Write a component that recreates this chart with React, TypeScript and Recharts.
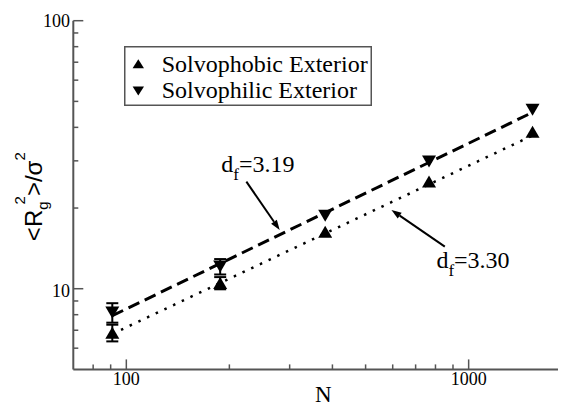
import React from 'react';
import {
  ComposedChart,
  Scatter,
  Line,
  XAxis,
  YAxis,
  ErrorBar,
  ReferenceLine,
  ReferenceDot,
  Legend,
} from 'recharts';

// ---- data ----
const chainN = [91, 188, 381, 766, 1537];
const phobicRg = [6.85, 10.5, 16.3, 25.1, 38.5];
const phobicErr = [0.49, 0.55, 0, 0, 0];
const philicRg = [8.15, 12.1, 18.7, 29.8, 46.5];
const philicErr = [0.68, 0.8, 0, 0, 0];

const fitN = [91, 1537];
const fitPhilic = [7.93, 45.5]; // dashed, d_f = 3.19
const fitPhobic = [6.78, 37.3]; // dotted, d_f = 3.30

const seriesNames = ['Solvophobic Exterior', 'Solvophilic Exterior'];
const fitLabels = ['3.19', '3.30'];

const xTicks = [80, 90, 100, 200, 300, 400, 500, 600, 700, 800, 900, 1000];
const xMajor = [100, 1000];
const yTicks = [6, 7, 8, 9, 10, 20, 30, 40, 50, 60, 70, 80, 90, 100];
const yMajor = [10, 100];

// annotation anchors in data units
const annText = [
  { x: 189.5, y: 27.34 },
  { x: 805, y: 11.91 },
];
const annArrows = [
  [{ x: 224.2, y: 25.1 }, { x: 280.5, y: 16.56 }],
  [{ x: 852, y: 14.35 }, { x: 595, y: 19.67 }],
];

const phobicData = chainN.map((n, i) => ({ x: n, y: phobicRg[i], err: phobicErr[i] }));
const philicData = chainN.map((n, i) => ({ x: n, y: philicRg[i], err: philicErr[i] }));
const fitPhilicData = fitN.map((n, i) => ({ x: n, y: fitPhilic[i] }));
const fitPhobicData = fitN.map((n, i) => ({ x: n, y: fitPhobic[i] }));

const AXIS = '#555';
const SERIF = '"Liberation Serif", "Times New Roman", serif';
const SANS = '"Liberation Sans", Arial, sans-serif';

const UpTri = (props: any) => {
  const { cx, cy } = props;
  if (cx == null || cy == null) return null;
  return <polygon points={`${cx},${cy - 6} ${cx - 7},${cy + 6} ${cx + 7},${cy + 6}`} fill="#000" />;
};
const DownTri = (props: any) => {
  const { cx, cy } = props;
  if (cx == null || cy == null) return null;
  return <polygon points={`${cx},${cy + 6} ${cx - 7},${cy - 6} ${cx + 7},${cy - 6}`} fill="#000" />;
};

const BottomTick = (props: any) => {
  const { x, y, payload } = props;
  const major = xMajor.includes(payload.value);
  return (
    <g>
      <line x1={x} x2={x} y1={y} y2={y - (major ? 10 : 5)} stroke={AXIS} strokeWidth={1.5} />
      {major && (
        <text x={x} y={y + 15.5} textAnchor="middle" fontFamily={SERIF} fontSize={18} fill="#000">
          {payload.value}
        </text>
      )}
    </g>
  );
};
const TopTick = (props: any) => {
  const { x, y, payload } = props;
  const major = xMajor.includes(payload.value);
  return <line x1={x} x2={x} y1={y} y2={y + (major ? 10 : 5)} stroke={AXIS} strokeWidth={1.5} />;
};
const LeftTick = (props: any) => {
  const { x, y, payload } = props;
  const major = yMajor.includes(payload.value);
  return (
    <g>
      <line x1={x} x2={x + (major ? 10 : 5)} y1={y} y2={y} stroke={AXIS} strokeWidth={1.5} />
      {major && (
        <text x={x - 3.3} y={y + (payload.value === 100 ? 6.5 : 8)} textAnchor="end" fontFamily={SERIF} fontSize={18} fill="#000">
          {payload.value}
        </text>
      )}
    </g>
  );
};
const RightTick = (props: any) => {
  const { x, y, payload } = props;
  const major = yMajor.includes(payload.value);
  return <line x1={x} x2={x - (major ? 10 : 5)} y1={y} y2={y} stroke={AXIS} strokeWidth={1.5} />;
};

const Arrow = (props: any) => {
  const { x1, y1, x2, y2 } = props;
  if ([x1, y1, x2, y2].some((v) => v == null || isNaN(v))) return null;
  const ang = Math.atan2(y2 - y1, x2 - x1);
  const L = 10;
  const W = 3.5;
  const bx = x2 - L * Math.cos(ang);
  const by = y2 - L * Math.sin(ang);
  const px = -Math.sin(ang) * W;
  const py = Math.cos(ang) * W;
  return (
    <g>
      <line x1={x1} y1={y1} x2={bx} y2={by} stroke="#000" strokeWidth={2} />
      <polygon points={`${x2},${y2} ${bx + px},${by + py} ${bx - px},${by - py}`} fill="#000" />
    </g>
  );
};

const makeAnnText = (value: string) => (props: any) => {
  const { cx, cy } = props;
  return (
    <text x={cx} y={cy} fontFamily={SERIF} fontSize={24} fill="#000">
      d
      <tspan fontSize={17} dy={8}>
        f
      </tspan>
      <tspan dy={-8}>={value}</tspan>
    </text>
  );
};

const YLabel = () => (
  <text
    transform="rotate(-90 33.7 188.7)"
    x={33.7}
    y={188.7}
    textAnchor="middle"
    fontFamily={SANS}
    fontSize={24}
    fill="#000"
  >
    {'<R'}
    <tspan fontSize={15} dy={6}>
      g
    </tspan>
    <tspan fontSize={15} dx={-3} dy={-22.7}>
      2
    </tspan>
    <tspan dy={16.7}>{'>/σ'}</tspan>
    <tspan fontSize={15} dy={-16.7}>
      2
    </tspan>
  </text>
);

const XLabel = () => (
  <text x={315.3} y={394} textAnchor="middle" fontFamily={SERIF} fontSize={23} fill="#000">
    N
  </text>
);

const renderLegend = () => (
  <svg width={248} height={60} style={{ display: 'block' }}>
    <rect x={0.75} y={0.75} width={246.5} height={58.5} fill="#fff" stroke={AXIS} strokeWidth={1.5} />
    <polygon points="14.3,13.3 8.6,22.3 20,22.3" fill="#000" />
    <polygon points="14.3,49.5 8.6,40.5 20,40.5" fill="#000" />
    <text x={37.7} y={26.2} fontFamily={SERIF} fontSize={24} fill="#000">
      {seriesNames[0]}
    </text>
    <text x={37.7} y={51.8} fontFamily={SERIF} fontSize={24} fill="#000">
      {seriesNames[1]}
    </text>
  </svg>
);

export default function App() {
  return (
    <div style={{ width: 558, height: 400, overflow: 'hidden', position: 'relative', background: '#fff' }}>
      <ComposedChart
        width={580}
        height={400}
        margin={{ top: 12.7, right: 16.3, bottom: 0, left: 0 }}
        style={{ background: '#fff' }}
      >
        <XAxis
          dataKey="x"
          type="number"
          scale="log"
          domain={[70, 2000]}
          allowDataOverflow
          ticks={xTicks}
          interval={0}
          tickLine={false}
          tickSize={0}
          tickMargin={0}
          height={38.6}
          axisLine={{ stroke: AXIS, strokeWidth: 2 }}
          tick={<BottomTick />}
          label={XLabel}
        />
        <XAxis
          xAxisId="top"
          orientation="top"
          dataKey="x"
          type="number"
          scale="log"
          domain={[70, 2000]}
          allowDataOverflow
          ticks={xTicks}
          interval={0}
          tickLine={false}
          tickSize={0}
          tickMargin={0}
          height={0}
          axisLine={{ stroke: AXIS, strokeWidth: 2 }}
          tick={<TopTick />}
        />
        <YAxis
          type="number"
          scale="log"
          domain={[5, 100]}
          allowDataOverflow
          ticks={yTicks}
          interval={0}
          tickLine={false}
          tickSize={0}
          tickMargin={0}
          width={65.3}
          axisLine={{ stroke: AXIS, strokeWidth: 2 }}
          tick={<LeftTick />}
          label={YLabel}
        />
        <YAxis
          yAxisId="right"
          orientation="right"
          type="number"
          scale="log"
          domain={[5, 100]}
          allowDataOverflow
          ticks={yTicks}
          interval={0}
          tickLine={false}
          tickSize={0}
          tickMargin={0}
          width={0}
          axisLine={{ stroke: AXIS, strokeWidth: 2 }}
          tick={<RightTick />}
        />
        <Legend
          layout="vertical"
          align="center"
          verticalAlign="middle"
          wrapperStyle={{ left: 116, top: 37.5, width: 248, height: 60, margin: 0, padding: 0, lineHeight: 0 }}
          content={renderLegend}
        />
        <Line
          data={fitPhilicData}
          dataKey="y"
          type="linear"
          stroke="#000"
          strokeWidth={3}
          strokeDasharray="12 6"
          dot={false}
          activeDot={false}
          legendType="none"
          isAnimationActive={false}
        />
        <Line
          data={fitPhobicData}
          dataKey="y"
          type="linear"
          stroke="#000"
          strokeWidth={2.5}
          strokeDasharray="2.5 7.1"
          dot={false}
          activeDot={false}
          legendType="none"
          isAnimationActive={false}
        />
        <Scatter name={seriesNames[0]} data={phobicData} dataKey="y" shape={UpTri} isAnimationActive={false}>
          <ErrorBar dataKey="err" direction="y" width={6} stroke="#000" strokeWidth={2} isAnimationActive={false} />
        </Scatter>
        <Scatter name={seriesNames[1]} data={philicData} dataKey="y" shape={DownTri} isAnimationActive={false}>
          <ErrorBar dataKey="err" direction="y" width={6} stroke="#000" strokeWidth={2} isAnimationActive={false} />
        </Scatter>
        {annArrows.map((seg, i) => (
          <ReferenceLine key={`arr${i}`} segment={seg} shape={Arrow} />
        ))}
        {annText.map((p, i) => (
          <ReferenceDot key={`txt${i}`} x={p.x} y={p.y} r={0} shape={makeAnnText(fitLabels[i])} />
        ))}
      </ComposedChart>
    </div>
  );
}
